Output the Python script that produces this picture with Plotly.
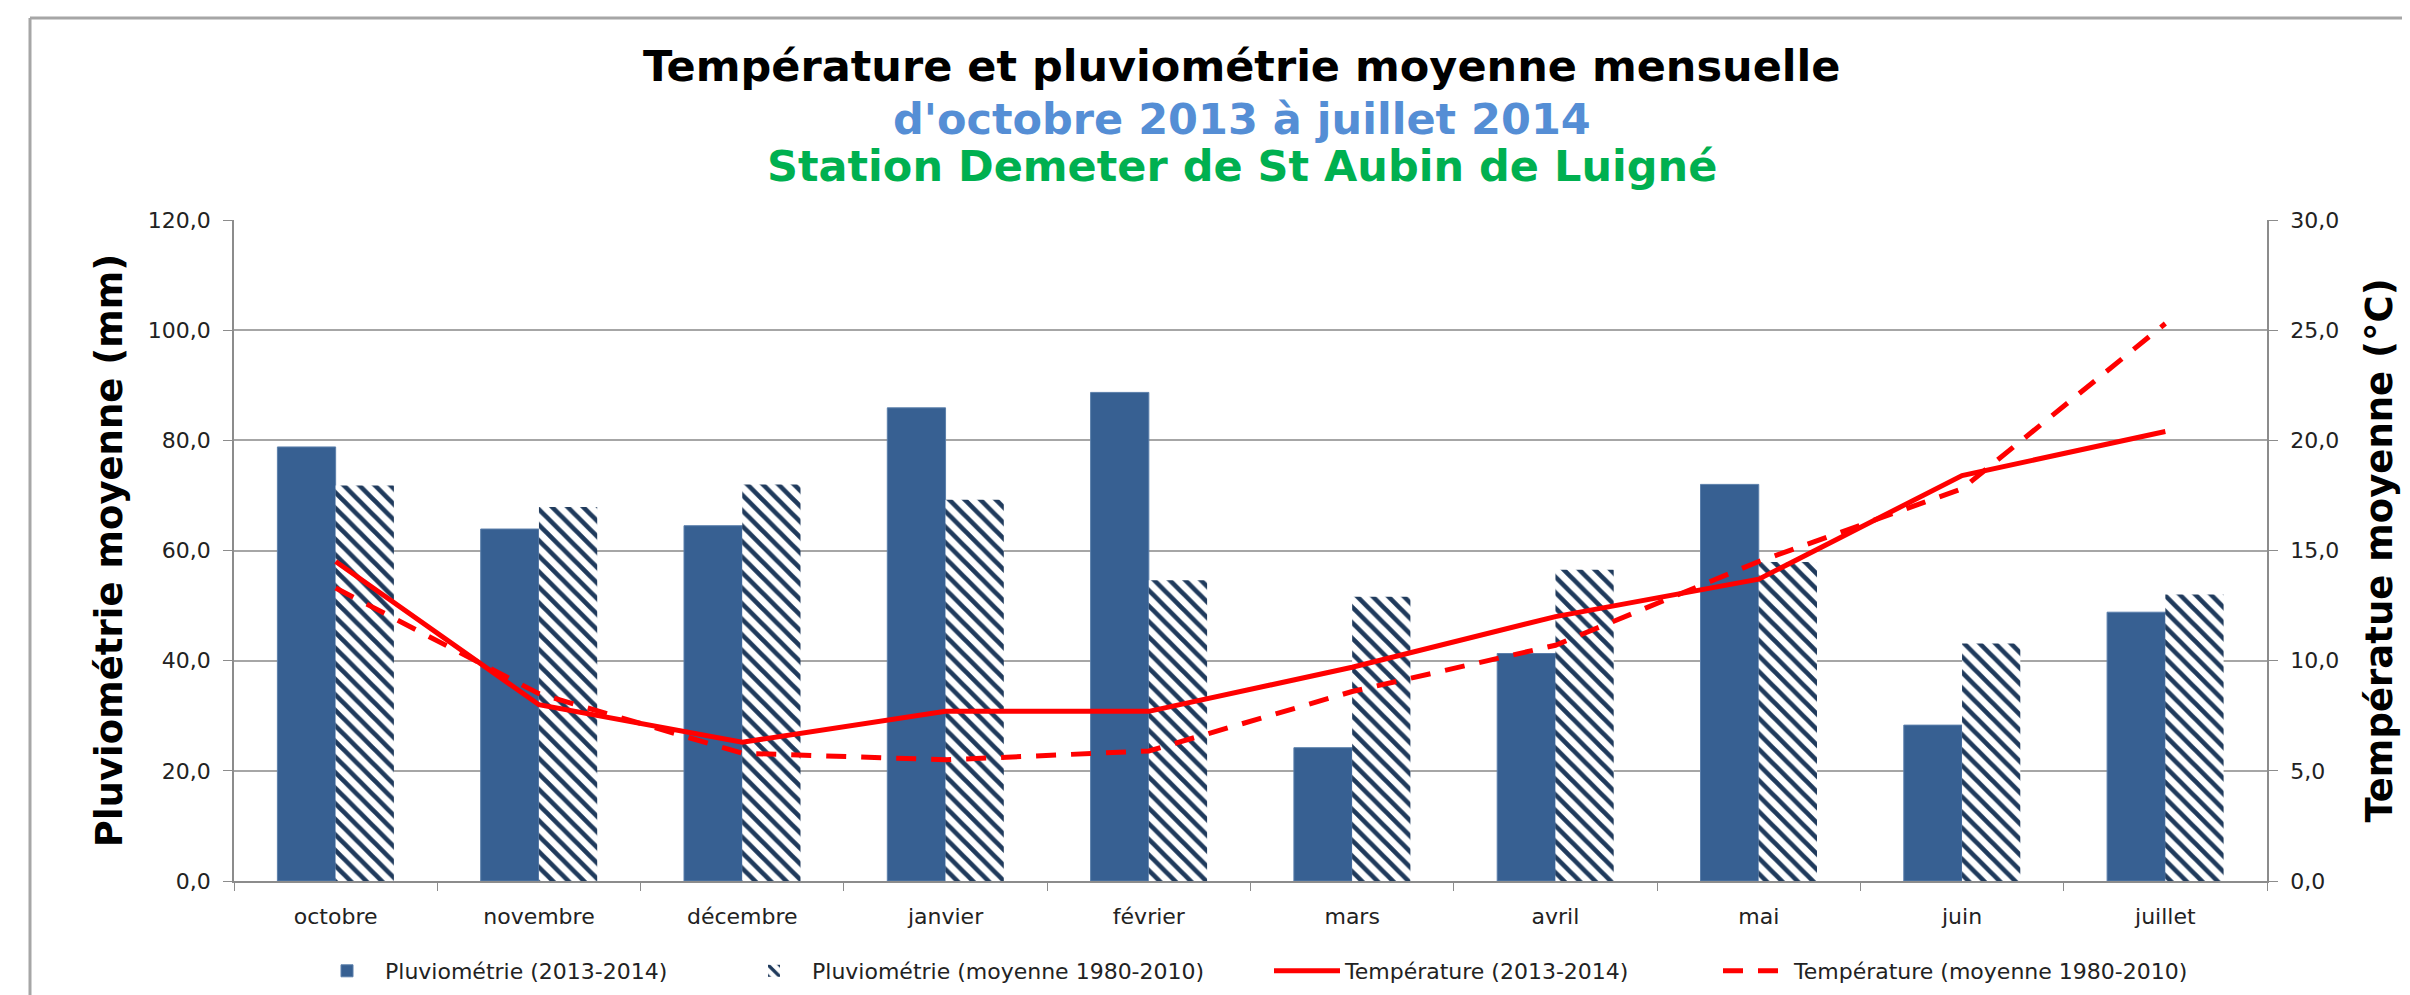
import plotly.graph_objects as go

months = ["octobre", "novembre", "décembre", "janvier", "février",
          "mars", "avril", "mai", "juin", "juillet"]
pluvio_2013_2014 = [78.8, 63.9, 64.5, 85.9, 88.7, 24.2, 41.3, 72.0, 28.3, 48.8]
pluvio_moy_1980_2010 = [71.8, 67.9, 72.0, 69.2, 54.6, 51.6, 56.5, 57.9, 43.1, 52.0]
temp_2013_2014 = [14.5, 8.0, 6.3, 7.7, 7.7, 9.7, 12.0, 13.7, 18.4, 20.4]
temp_moy_1980_2010 = [13.3, 8.5, 5.8, 5.5, 5.9, 8.6, 10.7, 14.5, 17.8, 25.3]

W, H = 2410, 995
L, R, T, B = 226, 2259, 212, 873  # plot area in pixels


def px_x(px):
    return (px - L) / (R - L)


def px_y(py):
    return (B - py) / (B - T)


FONT = "DejaVu Sans"
BLUE = "#376092"
NAVY = "#1f3a5c"
RED = "#ff0000"
GRID = "#a6a6a6"

fig = go.Figure()

fig.add_trace(go.Bar(
    x=months, y=pluvio_2013_2014, name="Pluviométrie (2013-2014)",
    marker=dict(color=BLUE, line=dict(color="#5b7fab", width=1)),
    legend="legend", yaxis="y",
))
fig.add_trace(go.Bar(
    x=months, y=pluvio_moy_1980_2010, name="Pluviométrie (moyenne 1980-2010)",
    marker=dict(color="white", line=dict(width=0),
                pattern=dict(shape="\\", fgcolor=NAVY, bgcolor="white",
                             size=11, solidity=0.42, fillmode="replace")),
    legend="legend2", yaxis="y",
))
fig.add_trace(go.Scatter(
    x=months, y=temp_2013_2014, name="Température (2013-2014)",
    mode="lines", line=dict(color=RED, width=5),
    legend="legend3", yaxis="y2",
))
fig.add_trace(go.Scatter(
    x=months, y=temp_moy_1980_2010, name="Température (moyenne 1980-2010)",
    mode="lines", line=dict(color=RED, width=5, dash="20px,15px"),
    legend="legend4", yaxis="y2",
))

tick_font = dict(family=FONT, size=22, color="#222222")
leg_common = dict(orientation="h", yanchor="middle", xanchor="left",
                  y=px_y(963), itemwidth=66,
                  font=dict(family=FONT, size=22, color="#222222"),
                  bgcolor="rgba(0,0,0,0)")

fig.update_layout(
    width=W, height=H,
    margin=dict(l=L, r=W - R, t=T, b=H - B, autoexpand=False),
    paper_bgcolor="white", plot_bgcolor="white",
    separators=", ",
    barmode="group", bargap=0.427, bargroupgap=0,
    xaxis=dict(
        type="category", showgrid=False, showline=True, linecolor="#8c8c8c",
        linewidth=1.5, ticks="outside", ticklen=8, tickcolor="#8c8c8c",
        tickson="boundaries", tickfont=tick_font, ticklabelstandoff=15,
    ),
    yaxis=dict(
        range=[0, 120], dtick=20, tickformat=".1f", showgrid=True,
        gridcolor=GRID, gridwidth=1.5, showline=True, linecolor="#8c8c8c",
        linewidth=1.5, ticks="outside", ticklen=9, tickcolor="#8c8c8c",
        tickfont=tick_font, zeroline=False, ticklabelstandoff=8,
        title=dict(text="<b>Pluviométrie moyenne (mm)</b>",
                   font=dict(family=FONT, size=37, color="black"), standoff=14),
    ),
    yaxis2=dict(
        range=[0, 30], dtick=5, tickformat=".1f", overlaying="y", side="right",
        showgrid=False, showline=True, linecolor="#8c8c8c", linewidth=1.5,
        ticks="outside", ticklen=9, tickcolor="#8c8c8c", tickfont=tick_font,
        zeroline=False, ticklabelstandoff=8,
        title=dict(text="<b>Températue moyenne (°C)</b>",
                   font=dict(family=FONT, size=37, color="black"), standoff=28),
    ),
    legend=dict(x=px_x(301), **leg_common),
    legend2=dict(x=px_x(728), **leg_common),
    legend3=dict(x=px_x(1261), **leg_common),
    legend4=dict(x=px_x(1710), **leg_common),
    showlegend=True,
)

titles = [
    ("Température et pluviométrie moyenne mensuelle", "black", 58),
    ("d'octobre 2013 à juillet 2014", "#558ed5", 111),
    ("Station Demeter de St Aubin de Luigné", "#00b050", 158),
]
for text, color, ycen in titles:
    fig.add_annotation(
        text=f"<b>{text}</b>", xref="paper", yref="paper",
        x=px_x(1234), y=px_y(ycen), xanchor="center", yanchor="middle",
        showarrow=False, font=dict(family=FONT, size=43, color=color),
    )

# chart frame (top and left edges visible in the reference)
fig.add_shape(type="line", xref="paper", yref="paper",
              x0=px_x(22), x1=px_x(W + 5), y0=px_y(10), y1=px_y(10),
              line=dict(color="#a6a6a6", width=3))
fig.add_shape(type="line", xref="paper", yref="paper",
              x0=px_x(22), x1=px_x(22), y0=px_y(10), y1=px_y(H + 5),
              line=dict(color="#a6a6a6", width=3))

fig.write_html("out.html")
